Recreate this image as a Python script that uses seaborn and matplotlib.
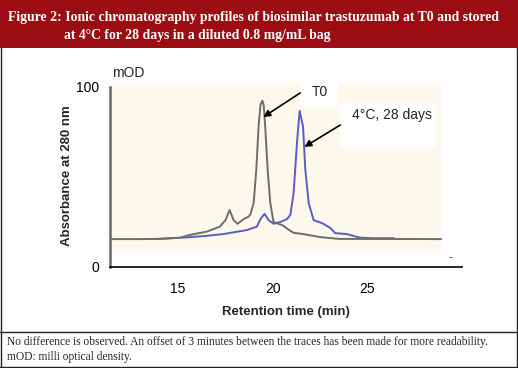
import matplotlib
matplotlib.use('Agg')
import matplotlib.pyplot as plt
from matplotlib.patches import Rectangle
from matplotlib.lines import Line2D
import pandas as pd
import seaborn as sns

# chromatogram (retention time in min, absorbance in mOD)
t0_time = [11.4, 13.0, 14.0, 15.1, 15.6, 16.5, 17.2, 17.5, 17.72, 17.93, 18.14,
           18.46, 18.72, 18.81, 18.99, 19.13, 19.25, 19.35, 19.45, 19.52, 19.6,
           19.73, 19.87, 20.04, 20.3, 20.55, 20.8, 21.1, 21.6, 22.5, 23.5, 28.9]
t0_abs = [15.5, 15.5, 15.6, 16.3, 17.8, 19.6, 22.4, 26.0, 31.7, 26.0, 24.0,
          26.6, 28.0, 29.0, 35.5, 54.0, 78.0, 90.0, 92.4, 90.0, 78.0,
          54.0, 35.5, 25.0, 24.0, 23.0, 21.0, 19.0, 18.3, 16.6, 15.6, 15.5]

d28_time = [13.7, 15.27, 16.5, 17.4, 18.63, 19.16, 19.37, 19.57, 19.78, 20.04,
            20.4, 20.75, 20.93, 21.1, 21.28, 21.42, 21.6, 21.72, 21.9, 22.16,
            22.6, 23.04, 23.3, 23.9, 24.6, 25.3, 26.4]
d28_abs = [15.5, 16.3, 17.3, 18.3, 20.5, 22.4, 27.0, 29.5, 26.0, 24.0,
           25.0, 26.6, 29.0, 41.0, 69.0, 86.8, 78.0, 54.0, 35.5, 26.0,
           24.4, 21.7, 18.8, 18.3, 16.3, 16.0, 16.0]

x_ticks = [15, 20, 25]
y_ticks = [0, 100]

title_lines = ["Figure 2: Ionic chromatography profiles of biosimilar trastuzumab at T0 and stored",
               "at 4°C for 28 days in a diluted 0.8 mg/mL bag"]
notes = ["No difference is observed. An offset of 3 minutes between the traces has been made for more readability.",
         "mOD: milli optical density."]

df_t0 = pd.DataFrame({"time": t0_time, "abs": t0_abs})
df_28 = pd.DataFrame({"time": d28_time, "abs": d28_abs})

sns.set_style("white")
plt.rcParams['font.family'] = ['Liberation Sans', 'DejaVu Sans']

fig = plt.figure(figsize=(5.18, 3.68), dpi=100)
ax = fig.add_axes([0.2124, 0.2745, 0.6795, 0.4989])

# cream plot area
ax.add_patch(Rectangle((11.5, 7.7), 17.4, 94.5, facecolor='#fdf8ec', edgecolor='none', zorder=0))

sns.lineplot(data=df_t0, x="time", y="abs", ax=ax, color='#6e6e6e', lw=1.4, estimator=None, zorder=3)
sns.lineplot(data=df_28, x="time", y="abs", ax=ax, color='#5c5cc6', lw=1.4, estimator=None, zorder=2)

ax.set_xlim(11.4, 30.0)
ax.set_ylim(0, 102)
ax.set_xticks(x_ticks)
ax.set_yticks(y_ticks)
ax.tick_params(axis='both', labelsize=10, colors='#333333', length=6, width=1, direction='out')
ax.tick_params(axis='y', pad=2)
ax.tick_params(axis='x', pad=5)
for lab in ax.get_xticklabels() + ax.get_yticklabels():
    lab.set_color('black')

for s in ['top', 'right']:
    ax.spines[s].set_visible(False)
ax.spines['left'].set_bounds(0, 100)
ax.spines['left'].set_color('#666666')
ax.spines['left'].set_linewidth(1.8)
ax.spines['bottom'].set_color('black')
ax.spines['bottom'].set_linewidth(1.2)

ax.set_xlabel("Retention time (min)", fontsize=9.5, fontweight='bold', labelpad=7)
ax.set_ylabel("Absorbance at 280 nm", fontsize=9.5, fontweight='bold', labelpad=2)
ax.text(11.5, 104, "mOD", fontsize=10, ha='left', va='bottom')
ax.text(29.4, 5, "-", fontsize=9, color='#555555', ha='center', va='center')

# annotation boxes
ax.add_patch(Rectangle((21.45, 88.9), 2.0, 13.3, facecolor='white', edgecolor='none', zorder=4, clip_on=False))
ax.add_patch(Rectangle((23.57, 66.7), 5.08, 24.4, facecolor='white', edgecolor='none', zorder=4, clip_on=False))
arrow = dict(arrowstyle='-|>', color='black', lw=1.2, mutation_scale=10, shrinkA=0, shrinkB=0)
ax.annotate("", xy=(19.5, 83.3), xytext=(21.45, 96.7), arrowprops=arrow, zorder=5)
ax.annotate("", xy=(21.67, 66.7), xytext=(23.57, 78.9), arrowprops=arrow, zorder=5)
ax.text(22.5, 97, "T0", fontsize=10, ha='center', va='center', zorder=6)
ax.text(24.2, 84.4, "4°C, 28 days", fontsize=10, ha='left', va='center', zorder=6)

# header banner
fig.add_artist(Rectangle((0, 1 - 48 / 368), 1, 48 / 368, transform=fig.transFigure,
                         facecolor='#9c0c13', edgecolor='none'))
fig.text(8 / 518, 1 - 18 / 368, title_lines[0], color='white', fontsize=9.9,
         fontweight='bold', family='Liberation Serif', ha='left', va='center')
fig.text(64 / 518, 1 - 35 / 368, title_lines[1], color='white', fontsize=9.9,
         fontweight='bold', family='Liberation Serif', ha='left', va='center')

# frame and footnotes
for xy in [([0.5 / 518, 0.5 / 518], [0, 1 - 48 / 368]),
           ([1 - 1.5 / 518, 1 - 1.5 / 518], [0, 1 - 48 / 368]),
           ([0, 1], [0.6 / 368, 0.6 / 368]),
           ([0, 1], [1 - 332 / 368, 1 - 332 / 368])]:
    fig.add_artist(Line2D(xy[0], xy[1], transform=fig.transFigure, color='#222222', lw=1))
fig.text(7 / 518, 1 - 342 / 368, notes[0], fontsize=8.3, family='Liberation Serif', ha='left', va='center')
fig.text(7 / 518, 1 - 357 / 368, notes[1], fontsize=8.3, family='Liberation Serif', ha='left', va='center')

fig.savefig("out.png", dpi=100)
